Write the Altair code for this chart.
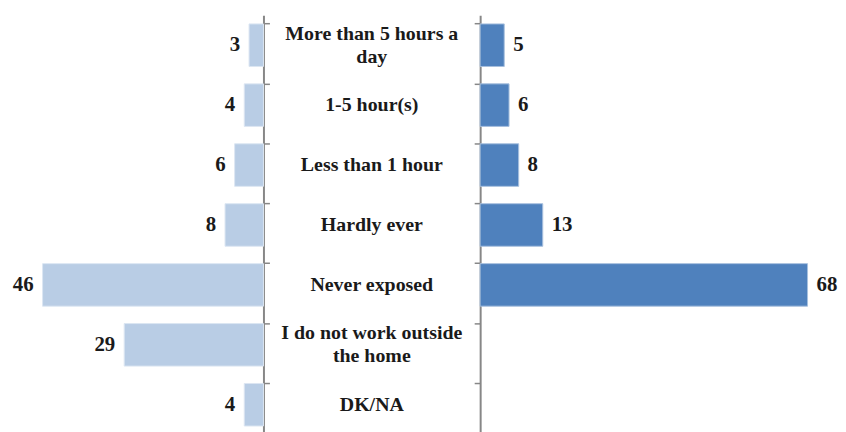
import altair as alt
import pandas as pd

categories = [
    "More than 5 hours a day",
    "1-5 hour(s)",
    "Less than 1 hour",
    "Hardly ever",
    "Never exposed",
    "I do not work outside the home",
    "DK/NA",
]
display_labels = [
    "More than 5 hours a\nday",
    "1-5 hour(s)",
    "Less than 1 hour",
    "Hardly ever",
    "Never exposed",
    "I do not work outside\nthe home",
    "DK/NA",
]
left_values = [3, 4, 6, 8, 46, 29, 4]
right_values = [5, 6, 8, 13, 68, None, None]

df = pd.DataFrame({
    "cat": categories,
    "label": display_labels,
    "left": left_values,
    "right": right_values,
})
df["nlines"] = df["label"].str.count("\n") + 1

FONT = "'Liberation Serif', 'Times New Roman', serif"
H = 422
LIGHT = "#B9CDE5"
DARK = "#4F81BD"
GRAY = "#878787"
TXT = "#1a1a1a"

yscale = alt.Scale(domain=categories, paddingInner=0.29, paddingOuter=0.145)

def yaxis(orient):
    return alt.Axis(orient=orient, labels=False, title=None, domainColor=GRAY,
                    domainWidth=2, tickColor=GRAY, tickWidth=1.5, tickSize=6,
                    bandPosition=0, grid=False, labelPadding=0, minExtent=0,
                    maxExtent=8)

base = alt.Chart(df)

left_bars = base.mark_bar(color=LIGHT, stroke="#DCE6F2", strokeWidth=1).encode(
    y=alt.Y("cat:N", sort=None, scale=yscale, axis=yaxis("right")),
    x=alt.X("left:Q", scale=alt.Scale(domain=[0, 53.2], reverse=True, nice=False), axis=None),
)
left_text = base.mark_text(align="right", baseline="middle", dx=-9, font=FONT,
                           fontSize=21, fontWeight="bold", color=TXT).encode(
    y=alt.Y("cat:N", sort=None, scale=yscale),
    x=alt.X("left:Q", scale=alt.Scale(domain=[0, 53.2], reverse=True, nice=False)),
    text=alt.Text("left:Q"),
)
left = (left_bars + left_text).properties(width=257, height=H)

center_one = base.transform_filter("datum.nlines == 1").mark_text(
    align="center", baseline="middle", font=FONT, fontSize=20,
    fontWeight="bold", color=TXT).encode(
    y=alt.Y("cat:N", sort=None, scale=yscale, axis=None),
    x=alt.value(102),
    text="label:N",
)
center_two = base.transform_filter("datum.nlines == 2").mark_text(
    align="center", baseline="middle", font=FONT, fontSize=20, dy=-11.5,
    fontWeight="bold", lineBreak="\n", lineHeight=23, color=TXT).encode(
    y=alt.Y("cat:N", sort=None, scale=yscale, axis=None),
    x=alt.value(102),
    text="label:N",
)
center = (center_one + center_two).properties(width=204, height=H)

rdf = df.dropna(subset=["right"])
rbase = alt.Chart(rdf)
right_bars = rbase.mark_bar(color=DARK, stroke="#A7C0DE", strokeWidth=1).encode(
    y=alt.Y("cat:N", sort=None, scale=yscale, axis=yaxis("left")),
    x=alt.X("right:Q", scale=alt.Scale(domain=[0, 73.5], nice=False), axis=None),
)
right_text = rbase.mark_text(align="left", baseline="middle", dx=9, font=FONT,
                             fontSize=21, fontWeight="bold", color=TXT).encode(
    y=alt.Y("cat:N", sort=None, scale=yscale),
    x=alt.X("right:Q", scale=alt.Scale(domain=[0, 73.5], nice=False)),
    text=alt.Text("right:Q", format="d"),
)
right = (right_bars + right_text).properties(width=356, height=H)

chart = alt.hconcat(left, center, right, spacing=0).properties(
    padding={"left": 0, "top": 6, "right": 0, "bottom": 0},
    background="white",
).configure_view(stroke=None).resolve_scale(x="independent")

chart.save("out.html", embed_options={"renderer": "svg", "actions": False})
